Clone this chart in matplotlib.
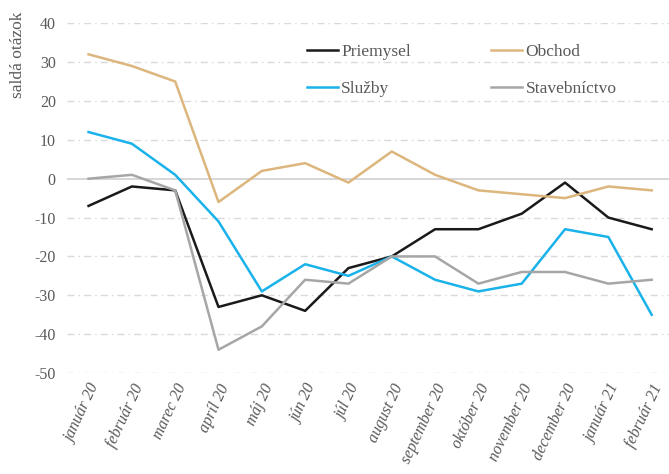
import matplotlib
matplotlib.use("Agg")
import matplotlib.pyplot as plt
import numpy as np

months = ["január 20", "február 20", "marec 20", "apríl 20", "máj 20", "jún 20", "júl 20",
          "august 20", "september 20", "október 20", "november 20", "december 20",
          "január 21", "február 21"]
priemysel = [-7, -2, -3, -33, -30, -34, -23, -20, -13, -13, -9, -1, -10, -13]
obchod = [32, 29, 25, -6, 2, 4, -1, 7, 1, -3, -4, -5, -2, -3]
sluzby = [12, 9, 1, -11, -29, -22, -25, -20, -26, -29, -27, -13, -15, -35]
stavebnictvo = [0, 1, -3, -44, -38, -26, -27, -20, -20, -27, -24, -24, -27, -26]
yticks = [40, 30, 20, 10, 0, -10, -20, -30, -40, -50]

plt.rcParams['font.family'] = ['Liberation Serif', 'DejaVu Serif']
txt = '#595959'

fig = plt.figure(figsize=(6.69, 4.74), dpi=100)
ax = fig.add_axes([0.100, 0.213, 0.900, 0.738])

x = np.arange(len(months))
for yv in yticks:
    if yv == 0:
        ax.axhline(0, color='#d0d0d0', lw=1.2, zorder=1)
    else:
        ax.axhline(yv, color='#d9d9d9', lw=1.0, ls=(0, (5, 3, 1, 3)), zorder=1)

l1, = ax.plot(x, priemysel, color='#1a1a1a', lw=1.8, label='Priemysel', zorder=3)
l2, = ax.plot(x, obchod, color='#dcb67c', lw=1.8, label='Obchod', zorder=3)
l3, = ax.plot(x, sluzby, color='#1ab2ea', lw=1.8, label='Služby', zorder=3)
l4, = ax.plot(x, stavebnictvo, color='#a6a6a6', lw=1.8, label='Stavebníctvo', zorder=3)

ax.set_xlim(-0.5, 13.4)
ax.set_ylim(-50, 40)
ax.set_yticks(yticks)
ax.set_yticklabels([str(v) for v in yticks], fontsize=11.5, color=txt)
ax.set_xticks(x)
ax.set_xticklabels(months, rotation=65, ha='right', rotation_mode='anchor',
                   fontsize=11.5, color=txt, style='italic')
ax.tick_params(length=0, pad=8)
ax.tick_params(axis='x', pad=6)
for s in ax.spines.values():
    s.set_visible(False)

fig.text(0.027, 0.975, 'saldá otázok', rotation=90, va='top', ha='center',
         fontsize=12.5, color=txt)

leg = ax.legend([l1, l3, l2, l4], ['Priemysel', 'Služby', 'Obchod', 'Stavebníctvo'],
                ncol=2, loc='upper left', bbox_to_anchor=(0.372, 0.985),
                frameon=False, fontsize=12.5, handlelength=1.8, handletextpad=0.2,
                columnspacing=4.6, labelspacing=1.2)
for t in leg.get_texts():
    t.set_color(txt)

fig.savefig('out.png', dpi=100)
